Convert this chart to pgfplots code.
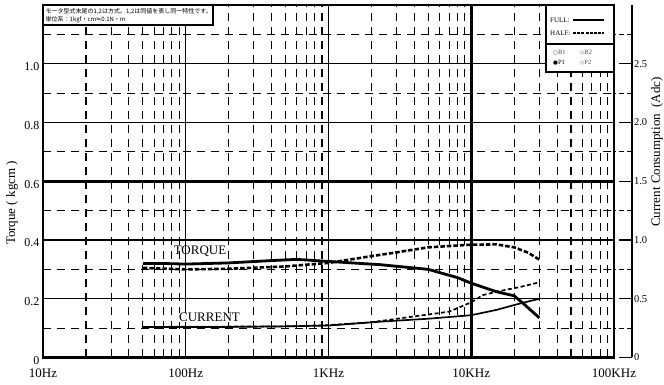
\documentclass[border=0pt]{standalone}
\usepackage{pgfplots}
\pgfplotsset{compat=1.18}
\usepackage{fontspec}
\setmainfont{Liberation Serif}
\newfontfamily\jp{Noto Sans CJK JP}
\newfontfamily\djv{DejaVu Sans}

\begin{document}
\begin{tikzpicture}
% main axis: torque
\begin{axis}[
  at={(0pt,0pt)}, anchor=south west,
  scale only axis, width=571pt, height=352.5pt,
  xmode=log, log basis x=10, xmin=10, xmax=100000, ymin=0, ymax=1.2,
  xtick={10,100,1000,100000},
  xticklabels={10Hz,100Hz,1KHz,100KHz},
  extra x ticks={10000}, extra x tick labels={10KHz},
  minor xtick={20,30,40,50,60,70,80,90,200,300,400,500,600,700,800,900,2000,3000,4000,5000,6000,7000,8000,9000,20000,30000,40000,50000,60000,70000,80000,90000},
  ytick={0,0.2,0.4,0.8,1.0},
  yticklabels={0,0.2,0.4,0.8,1.0},
  extra y ticks={0.6}, extra y tick labels={0.6},
  minor ytick={0.1,0.3,0.5,0.7,0.9,1.1},
  grid=both,
  major grid style={line width=1.1pt, black},
  minor grid style={line width=1.1pt, black, dash pattern=on 8pt off 6pt},
  extra tick style={major grid style={line width=2.6pt, black}},
  major tick length=0pt, minor tick length=0pt,
  axis line style={line width=2.6pt},
  xticklabel style={font=\fontsize{13}{15}\selectfont, yshift=-8pt},
  yticklabel style={font=\fontsize{12}{14}\selectfont, yshift=-3pt},
]
\addplot[line width=2.8pt, black] coordinates {
 (50,0.32) (70,0.32) (100,0.318) (200,0.322) (400,0.33) (600,0.334) (1000,0.327)
 (2300,0.316) (5000,0.30) (8000,0.272) (10000,0.253) (15000,0.224) (20000,0.21)
 (23000,0.185) (30000,0.135)};
\addplot[line width=2.6pt, black, dash pattern=on 4.5pt off 2pt] coordinates {
 (50,0.305) (100,0.30) (200,0.302) (500,0.31) (1000,0.322) (2000,0.345) (3000,0.358)
 (5000,0.375) (10000,0.384) (15000,0.385) (20000,0.375) (25000,0.357) (30000,0.333)};
\end{axis}
% current data axis
\begin{axis}[
  at={(0pt,0pt)}, anchor=south west,
  scale only axis, width=571pt, height=352.5pt,
  xmode=log, xmin=10, xmax=100000, ymin=0, ymax=3,
  hide axis,
]
\addplot[line width=1.7pt, black] coordinates {
 (50,0.26) (200,0.26) (500,0.265) (1000,0.272) (2300,0.305) (5000,0.33)
 (10000,0.36) (15000,0.405) (22000,0.46) (30000,0.5)};
\addplot[line width=1.7pt, black, dash pattern=on 4pt off 2.5pt] coordinates {
 (50,0.26) (500,0.265) (1000,0.275) (2000,0.30) (4000,0.35) (7000,0.39)
 (10000,0.47) (12000,0.53) (15000,0.56) (22000,0.60) (30000,0.64)};
\end{axis}
% right scale axis
\begin{axis}[
  at={(0pt,0pt)}, anchor=south west,
  scale only axis, width=589pt, height=352.5pt,
  xmin=0, xmax=1, ymin=0, ymax=3,
  axis x line=none, axis y line*=right,
  ytick={0,0.5,1,1.5,2,2.5},
  yticklabels={0,0.5,1.0,1.5,2.0,2.5},
  minor ytick={0.25,0.75,1.25,1.75,2.25,2.75},
  tick align=inside,
  major tick length=13pt, minor tick length=17pt,
  tick style={line width=1.1pt, black},
  minor tick style={dash pattern=on 5pt off 3pt},
  y axis line style={line width=2.2pt},
  yticklabel style={font=\fontsize{10.5}{12}\selectfont, xshift=-1.5pt},
]
\end{axis}
% axis titles
\node[rotate=90, font=\fontsize{13}{15}\selectfont] at (-31pt,154.5pt) {Torque ( kgcm )};
\node[rotate=90, font=\fontsize{13}{15}\selectfont] at (614pt,205.5pt) {Current Consumption\ \ (Adc)};
% curve labels
\node[font=\fontsize{13}{15}\selectfont, inner sep=0.5pt] at (157pt,106.5pt) {TORQUE};
\node[font=\fontsize{13}{15}\selectfont, fill=white, inner sep=0.5pt] at (166.5pt,40pt) {CURRENT};
% note box (top left)
\fill[white] (1.3pt,332.5pt) rectangle (170pt,351.2pt);
\draw[line width=1.1pt] (1.3pt,332.5pt) -- (170pt,332.5pt) -- (170pt,351.2pt);
\node[anchor=west, align=left, font=\jp\fontsize{6}{8}\selectfont, inner sep=0pt] at (2.5pt,342pt)
  {モータ型式末尾の1,2は方式。1,2は同値を表し同一特性です。\\単位系：1kgf・cm{\djv ≒}0.1N・m};
% legend box (top right)
\fill[white] (503pt,285.5pt) rectangle (569.7pt,351.2pt);
\draw[line width=1.1pt] (503pt,351.2pt) -- (503pt,285.5pt) -- (569.7pt,285.5pt);
\draw[line width=1.1pt] (503pt,313.5pt) -- (569.7pt,313.5pt);
\node[anchor=west, font=\fontsize{7}{8}\selectfont, inner sep=0pt] at (507pt,337.5pt) {FULL:};
\node[anchor=west, font=\fontsize{7}{8}\selectfont, inner sep=0pt] at (507pt,324.5pt) {HALF:};
\draw[line width=1.6pt] (530pt,337.5pt) -- (561pt,337.5pt);
\draw[line width=1.6pt, dash pattern=on 3pt off 1.2pt] (530pt,324.5pt) -- (561pt,324.5pt);
\node[anchor=west, font=\fontsize{6.5}{8}\selectfont, inner sep=0pt, text=black!70] at (510pt,305pt) {{\djv\fontsize{5.5}{6}\selectfont ○}B1};
\node[anchor=west, font=\fontsize{6.5}{8}\selectfont, inner sep=0pt, text=black!70] at (537pt,305pt) {{\djv\fontsize{5.5}{6}\selectfont ◇}B2};
\node[anchor=west, font=\fontsize{6.5}{8}\selectfont, inner sep=0pt] at (510pt,295pt) {{\djv\fontsize{5.5}{6}\selectfont ●}P1};
\node[anchor=west, font=\fontsize{6.5}{8}\selectfont, inner sep=0pt, text=black!70] at (537pt,295pt) {{\djv\fontsize{5.5}{6}\selectfont ◇}P2};
\pgfresetboundingbox
\useasboundingbox (-43pt,-27.5pt) rectangle (621pt,357.5pt);
\end{tikzpicture}
\end{document}
